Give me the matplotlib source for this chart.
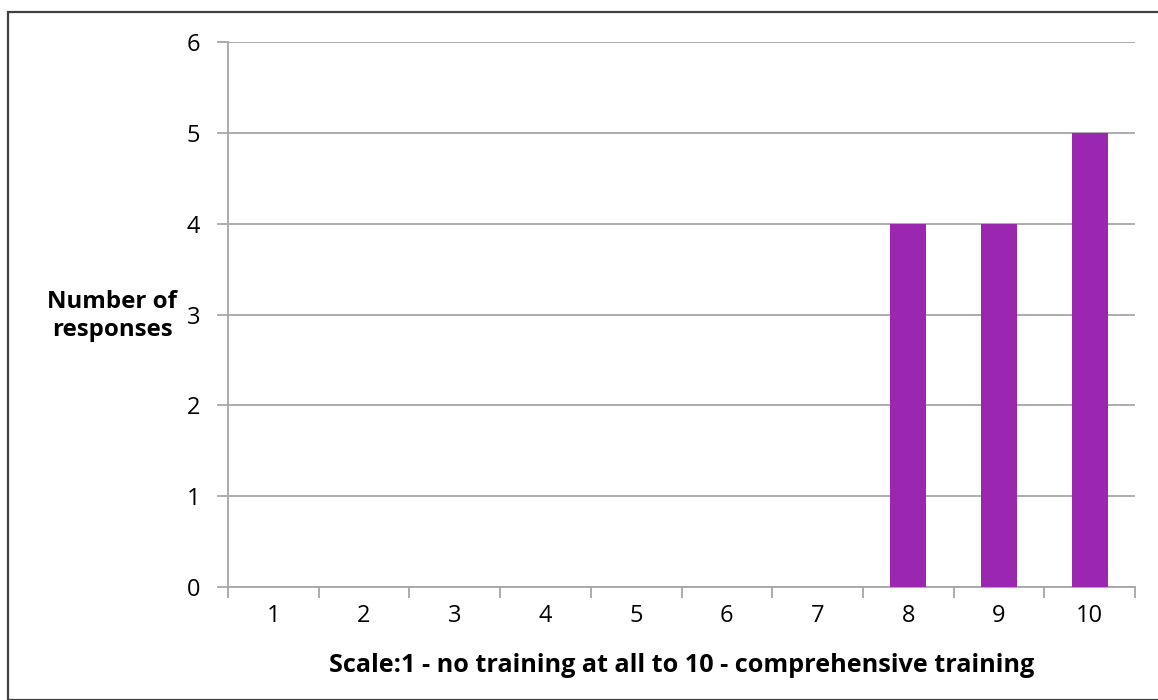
import matplotlib
matplotlib.use("Agg")
import matplotlib.pyplot as plt
from matplotlib.patches import Rectangle

plt.rcParams['font.family'] = ['Open Sans', 'DejaVu Sans']

categories = [1, 2, 3, 4, 5, 6, 7, 8, 9, 10]
responses = [0, 0, 0, 0, 0, 0, 0, 4, 4, 5]
y_ticks = [0, 1, 2, 3, 4, 5, 6]

W, H = 1158, 700
fig = plt.figure(figsize=(W / 100, H / 100), dpi=100)

# outer chart frame
fig.patches.append(Rectangle((8 / W, 0), 1.2, (H - 12) / H, transform=fig.transFigure,
                             fill=False, edgecolor='#404040', linewidth=1.6))

ax = fig.add_axes([228 / W, 1 - 587 / H, (1135 - 228) / W, (587 - 42) / H])

grid_c = '#A6A6A6'
ax.bar(categories, responses, width=0.4, color='#9B27B0', zorder=3)

ax.set_xlim(0.5, 10.5)
ax.set_ylim(0, 6)
ax.set_yticks(y_ticks)
ax.yaxis.grid(True, color=grid_c, linewidth=1.3, zorder=0)

# category boundaries get tick marks, labels sit at the centres
ax.set_xticks([c - 0.5 for c in categories] + [categories[-1] + 0.5])
ax.set_xticklabels([])
ax.set_xticks(categories, minor=True)
ax.set_xticklabels([str(c) for c in categories], minor=True)
ax.tick_params(axis='x', which='major', length=8, width=1.3, color=grid_c, direction='out')
ax.tick_params(axis='x', which='minor', length=0, pad=12, labelsize=17)
ax.tick_params(axis='y', length=8, width=1.3, color=grid_c, direction='out', pad=12, labelsize=17)

for s in ['top', 'right']:
    ax.spines[s].set_visible(False)
for s in ['left', 'bottom']:
    ax.spines[s].set_color(grid_c)
    ax.spines[s].set_linewidth(1.3)

ax.set_xlabel('Scale:1 - no training at all to 10 - comprehensive training',
              fontsize=18.2, fontweight='bold', labelpad=18)
fig.text(112 / W, 1 - 316 / H, 'Number of\nresponses', ha='center', va='center',
         fontsize=17.3, fontweight='bold', linespacing=1.25)

fig.savefig('out.png', dpi=100)
